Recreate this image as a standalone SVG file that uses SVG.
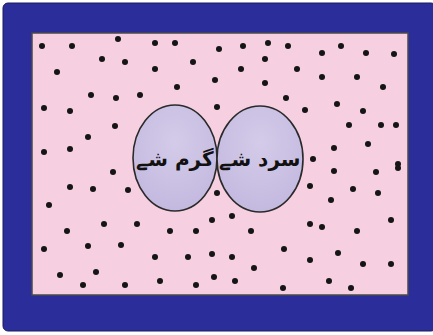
<svg xmlns="http://www.w3.org/2000/svg" width="433" height="335" viewBox="0 0 433 335">
<defs>
<style>
.frame{fill:#2b2e9a;stroke:#1b1c5c;stroke-width:1}
.field{fill:#f6cfe0;stroke:#4a4a4a;stroke-width:1.5}
.oval{stroke:#2a2a2a;stroke-width:1.6}
.lbl{font-family:"DejaVu Sans","Noto Sans",sans-serif;font-weight:bold;font-size:20px;fill:#111;text-anchor:middle}
.dots circle{fill:#151515}
</style>
<radialGradient id="og" cx="0.5" cy="0.35" r="0.7">
<stop offset="0" stop-color="#d4cbe9"/>
<stop offset="1" stop-color="#c2b8df"/>
</radialGradient>
</defs>
<rect class="frame" x="3" y="3" width="433" height="328" rx="5"/>
<rect class="field" x="32" y="33" width="376" height="262"/>
<g class="dots">
<circle cx="42" cy="46" r="3"/><circle cx="72" cy="46" r="3"/><circle cx="118" cy="39" r="3"/><circle cx="155" cy="43" r="3"/><circle cx="175" cy="43" r="3"/>
<circle cx="102" cy="59" r="3"/><circle cx="125" cy="62" r="3"/><circle cx="193" cy="62" r="3"/><circle cx="57" cy="72" r="3"/><circle cx="155" cy="69" r="3"/>
<circle cx="215" cy="80" r="3"/><circle cx="177" cy="87" r="3"/><circle cx="91" cy="95" r="3"/><circle cx="116" cy="98" r="3"/><circle cx="140" cy="95" r="3"/>
<circle cx="44" cy="108" r="3"/><circle cx="70" cy="111" r="3"/><circle cx="115" cy="126" r="3"/><circle cx="88" cy="137" r="3"/><circle cx="44" cy="152" r="3"/><circle cx="70" cy="149" r="3"/>
<circle cx="219" cy="49" r="3"/><circle cx="243" cy="46" r="3"/><circle cx="268" cy="43" r="3"/><circle cx="288" cy="46" r="3"/><circle cx="265" cy="59" r="3"/>
<circle cx="241" cy="69" r="3"/><circle cx="297" cy="69" r="3"/><circle cx="322" cy="53" r="3"/><circle cx="341" cy="46" r="3"/><circle cx="366" cy="53" r="3"/>
<circle cx="394" cy="54" r="3"/><circle cx="322" cy="77" r="3"/><circle cx="357" cy="77" r="3"/><circle cx="383" cy="87" r="3"/><circle cx="265" cy="83" r="3"/>
<circle cx="286" cy="98" r="3"/><circle cx="305" cy="110" r="3"/><circle cx="337" cy="104" r="3"/><circle cx="363" cy="111" r="3"/><circle cx="217" cy="107" r="3"/>
<circle cx="349" cy="125" r="3"/><circle cx="381" cy="125" r="3"/><circle cx="396" cy="125" r="3"/><circle cx="334" cy="148" r="3"/><circle cx="368" cy="144" r="3"/>
<circle cx="313" cy="159" r="3"/><circle cx="398" cy="164" r="3"/>
<circle cx="113" cy="172" r="3"/><circle cx="70" cy="187" r="3"/><circle cx="93" cy="189" r="3"/><circle cx="128" cy="190" r="3"/><circle cx="49" cy="205" r="3"/>
<circle cx="104" cy="224" r="3"/><circle cx="137" cy="224" r="3"/><circle cx="67" cy="231" r="3"/><circle cx="170" cy="231" r="3"/><circle cx="196" cy="231" r="3"/>
<circle cx="212" cy="220" r="3"/><circle cx="44" cy="249" r="3"/><circle cx="88" cy="246" r="3"/><circle cx="121" cy="245" r="3"/><circle cx="155" cy="257" r="3"/>
<circle cx="188" cy="257" r="3"/><circle cx="212" cy="254" r="3"/><circle cx="60" cy="275" r="3"/><circle cx="96" cy="272" r="3"/><circle cx="83" cy="285" r="3"/>
<circle cx="125" cy="285" r="3"/><circle cx="160" cy="281" r="3"/><circle cx="196" cy="285" r="3"/><circle cx="214" cy="277" r="3"/>
<circle cx="217" cy="193" r="3"/><circle cx="232" cy="216" r="3"/><circle cx="251" cy="231" r="3"/><circle cx="284" cy="249" r="3"/><circle cx="232" cy="257" r="3"/>
<circle cx="254" cy="268" r="3"/><circle cx="235" cy="281" r="3"/><circle cx="283" cy="288" r="3"/><circle cx="310" cy="186" r="3"/><circle cx="331" cy="200" r="3"/>
<circle cx="353" cy="189" r="3"/><circle cx="378" cy="193" r="3"/><circle cx="334" cy="171" r="3"/><circle cx="376" cy="172" r="3"/><circle cx="398" cy="168" r="3"/>
<circle cx="310" cy="224" r="3"/><circle cx="322" cy="227" r="3"/><circle cx="357" cy="231" r="3"/><circle cx="391" cy="220" r="3"/><circle cx="338" cy="253" r="3"/>
<circle cx="310" cy="260" r="3"/><circle cx="363" cy="264" r="3"/><circle cx="391" cy="264" r="3"/><circle cx="329" cy="281" r="3"/><circle cx="351" cy="288" r="3"/>
</g>
<g id="hot">
<ellipse class="oval" cx="175" cy="158" rx="42" ry="53" style="fill:url(#og)"/>
<text class="lbl" x="175" y="166">گرم شے</text>
</g>
<g id="cold">
<ellipse class="oval" cx="260" cy="159" rx="43" ry="53" style="fill:url(#og)"/>
<text class="lbl" x="260" y="166">سرد شے</text>
</g>
<g id="connectors"></g>
</svg>
